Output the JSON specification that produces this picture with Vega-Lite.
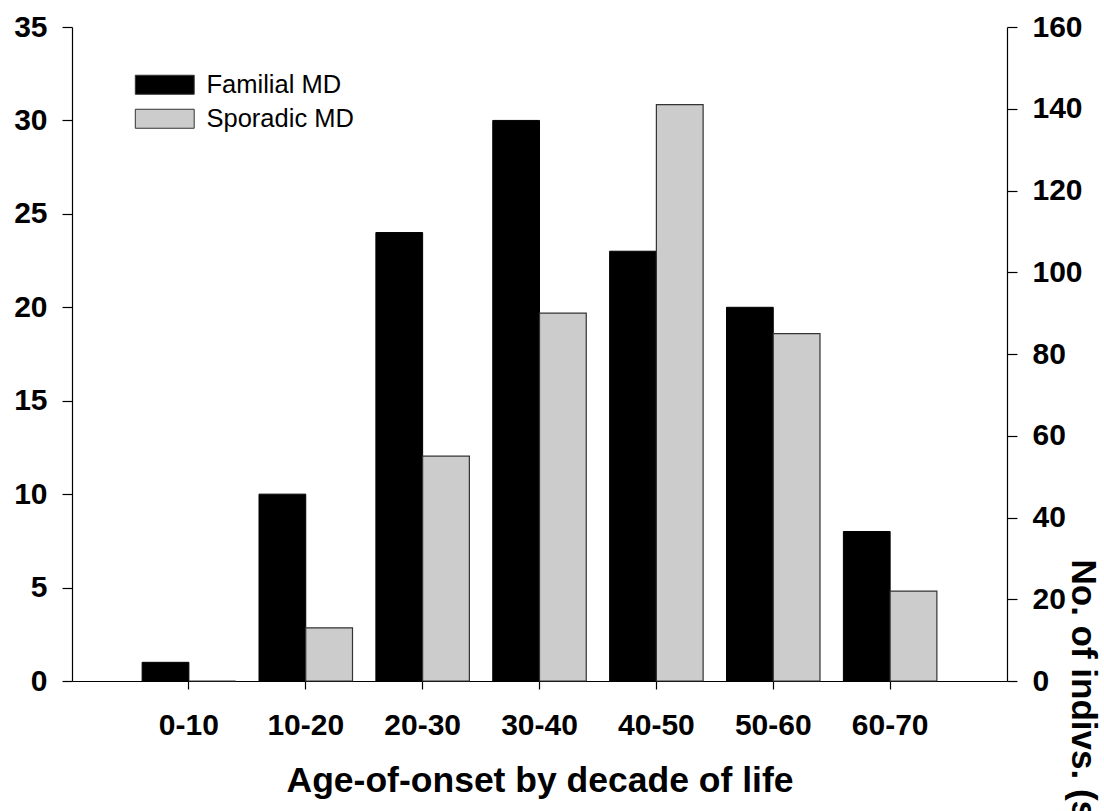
{
  "$schema": "https://vega.github.io/schema/vega-lite/v6.json",
  "width": 935,
  "height": 654,
  "autosize": {"type": "none"},
  "padding": {"left": 72, "top": 27, "right": 97, "bottom": 130},
  "background": "white",
  "config": {
    "view": {"stroke": null},
    "font": "Liberation Sans",
    "axis": {
      "domainColor": "#000",
      "tickColor": "#000",
      "labelColor": "#000",
      "titleColor": "#000",
      "grid": false,
      "labelFont": "Liberation Sans",
      "titleFont": "Liberation Sans",
      "labelFontWeight": "bold",
      "titleFontWeight": "bold",
      "domainWidth": 1.2,
      "tickWidth": 1.2
    }
  },
  "data": {
    "values": [
      {"age": "0-10", "series": "Familial MD", "n": 1},
      {"age": "10-20", "series": "Familial MD", "n": 10},
      {"age": "20-30", "series": "Familial MD", "n": 24},
      {"age": "30-40", "series": "Familial MD", "n": 30},
      {"age": "40-50", "series": "Familial MD", "n": 23},
      {"age": "50-60", "series": "Familial MD", "n": 20},
      {"age": "60-70", "series": "Familial MD", "n": 8},
      {"age": "0-10", "series": "Sporadic MD", "n": 0},
      {"age": "10-20", "series": "Sporadic MD", "n": 13},
      {"age": "20-30", "series": "Sporadic MD", "n": 55},
      {"age": "30-40", "series": "Sporadic MD", "n": 90},
      {"age": "40-50", "series": "Sporadic MD", "n": 141},
      {"age": "50-60", "series": "Sporadic MD", "n": 85},
      {"age": "60-70", "series": "Sporadic MD", "n": 22}
    ]
  },
  "encoding": {
    "x": {
      "field": "age",
      "type": "nominal",
      "sort": null,
      "scale": {"paddingInner": 0.2, "paddingOuter": 0.6},
      "axis": {
        "title": "Age-of-onset by decade of life",
        "labelAngle": 0,
        "labelFontSize": 30,
        "tickSize": 8,
        "labelPadding": 21,
        "titleFontSize": 35.5,
        "titlePadding": 23
      }
    },
    "xOffset": {
      "field": "series",
      "type": "nominal",
      "scale": {"domain": ["Familial MD", "Sporadic MD"]}
    },
    "color": {
      "field": "series",
      "type": "nominal",
      "scale": {"domain": ["Familial MD", "Sporadic MD"], "range": ["#000000", "#cccccc"]},
      "legend": {
        "orient": "none",
        "legendX": 80,
        "legendY": 45,
        "title": null,
        "padding": 0,
        "symbolType": "M-3.1,-1H3.1V1H-3.1Z",
        "symbolSize": 361,
        "symbolStrokeColor": "#333",
        "symbolStrokeWidth": 1,
        "symbolOpacity": 1,
        "labelFont": "Liberation Sans",
        "labelFontSize": 25.5,
        "labelColor": "#000",
        "labelOffset": 29,
        "rowPadding": 7
      }
    }
  },
  "layer": [
    {
      "transform": [{"filter": "datum.series === 'Familial MD'"}],
      "mark": {"type": "bar", "stroke": "#000", "strokeWidth": 1, "opacity": 1},
      "encoding": {
        "y": {
          "field": "n",
          "type": "quantitative",
          "scale": {"domain": [0, 35], "nice": false},
          "axis": {
            "orient": "left",
            "title": null,
            "values": [0, 5, 10, 15, 20, 25, 30, 35],
            "labelFontSize": 30,
            "tickSize": 10,
            "labelPadding": 15
          }
        }
      }
    },
    {
      "transform": [{"filter": "datum.series === 'Sporadic MD'"}],
      "mark": {"type": "bar", "stroke": "#333", "strokeWidth": 1.2, "opacity": 1},
      "encoding": {
        "y": {
          "field": "n",
          "type": "quantitative",
          "scale": {"domain": [0, 160], "nice": false},
          "axis": {
            "orient": "right",
            "title": "No. of indivs. (sporadic MD)",
            "values": [0, 20, 40, 60, 80, 100, 120, 140, 160],
            "labelFontSize": 30,
            "tickSize": 10,
            "labelPadding": 15,
            "titleFontSize": 35,
            "titleAngle": 90,
            "titleAlign": "left",
            "titleBaseline": "alphabetic",
            "titleX": 64.5,
            "titleY": 532
          }
        }
      }
    }
  ],
  "resolve": {"scale": {"y": "independent"}}
}
